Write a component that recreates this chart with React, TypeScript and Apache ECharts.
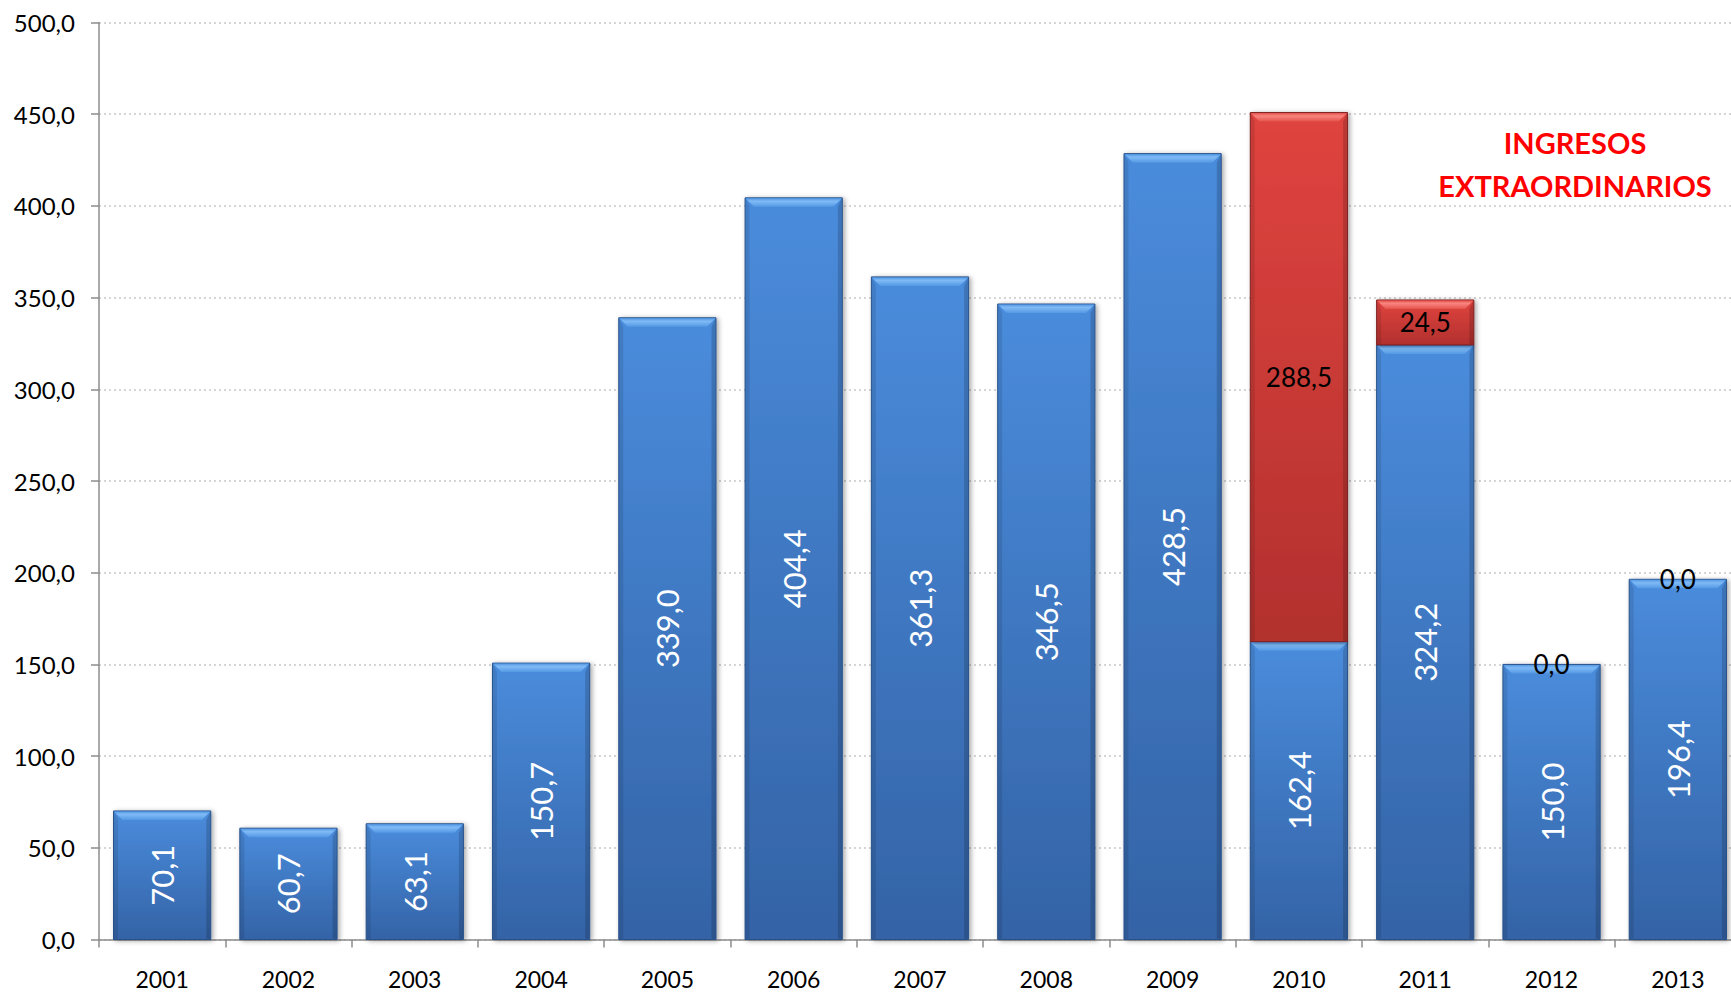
import React, { useEffect, useRef } from "react";
import * as echarts from "echarts";

const categories = ["2001", "2002", "2003", "2004", "2005", "2006", "2007", "2008", "2009", "2010", "2011", "2012", "2013"];
const baseValues = [70.1, 60.7, 63.1, 150.7, 339.0, 404.4, 361.3, 346.5, 428.5, 162.4, 324.2, 150.0, 196.4];
const extraValues: (number | null)[] = [null, null, null, null, null, null, null, null, null, 288.5, 24.5, 0.0, 0.0];
const yMin = 0;
const yMax = 500;
const yInterval = 50;
const noteLines = ["INGRESOS", "EXTRAORDINARIOS"];

const fmt = (v: number) => v.toFixed(1).replace(".", ",");
const FONT = "Lato, 'Open Sans', sans-serif";

export default function App() {
  const ref = useRef<HTMLDivElement>(null);
  useEffect(() => {
    if (!ref.current) return;
    const chart = echarts.init(ref.current, null, { renderer: "svg" });

    const segments: number[][] = [];
    categories.forEach((_, i) => {
      segments.push([i, 0, baseValues[i], 0]);
      const e = extraValues[i];
      if (e !== null && e !== undefined) segments.push([i, baseValues[i], baseValues[i] + e, 1]);
    });

    const palettes = [
      { top: "#4a8cdc", bottom: "#3463a6", bevel1: "#80baf6", bevel2: "#5499e4", edge: "#28518a" },
      { top: "#e0443f", bottom: "#b2302e", bevel1: "#f8857f", bevel2: "#e5524c", edge: "#7e2020" },
    ];

    const renderItem = (params: any, api: any) => {
      const idx = api.value(0);
      const lo = api.value(1);
      const hi = api.value(2);
      const kind = api.value(3);
      const pTop = api.coord([idx, hi]);
      const pBot = api.coord([idx, lo]);
      const band = api.size([1, 0])[0];
      const w = band * 0.77;
      const x0 = pTop[0] - w / 2;
      const x1 = x0 + w;
      const yT = pTop[1];
      const yB = pBot[1];
      const h = yB - yT;
      if (h < 0.5) return { type: "group", children: [] };
      const p = palettes[kind];
      const b = Math.min(9, h / 2);
      return {
        type: "group",
        children: [
          {
            type: "rect",
            shape: { x: x0, y: yT, width: w, height: h },
            style: {
              fill: new echarts.graphic.LinearGradient(0, 0, 0, 1, [
                { offset: 0, color: p.top },
                { offset: 1, color: p.bottom },
              ]),
              stroke: p.edge,
              lineWidth: 1,
              shadowBlur: 5,
              shadowOffsetX: 2,
              shadowOffsetY: 1,
              shadowColor: "rgba(0,0,0,0.35)",
            },
          },
          {
            type: "polygon",
            shape: { points: [[x0 + 0.5, yT + 0.5], [x1 - 0.5, yT + 0.5], [x1 - b, yT + b], [x0 + b, yT + b]] },
            style: {
              fill: new echarts.graphic.LinearGradient(0, 0, 0, 1, [
                { offset: 0, color: p.bevel2 },
                { offset: 0.35, color: p.bevel1 },
                { offset: 1, color: p.bevel2 },
              ]),
            },
          },
          {
            type: "polygon",
            shape: { points: [[x0 + 0.5, yT + 0.5], [x0 + b * 0.5, yT + b], [x0 + b * 0.5, yB - 1], [x0 + 0.5, yB - 0.5]] },
            style: { fill: "rgba(0,0,0,0.10)" },
          },
          {
            type: "polygon",
            shape: { points: [[x1 - 0.5, yT + 0.5], [x1 - b * 0.5, yT + b], [x1 - b * 0.5, yB - 1], [x1 - 0.5, yB - 0.5]] },
            style: { fill: "rgba(0,0,0,0.16)" },
          },
        ],
      };
    };

    chart.setOption({
      animation: false,
      backgroundColor: "#ffffff",
      textStyle: { fontFamily: FONT },
      grid: { left: 99, right: 4, top: 22.5, bottom: 54.5 },
      xAxis: {
        type: "category",
        data: categories,
        boundaryGap: true,
        axisLine: { lineStyle: { color: "#8c8c8c", width: 1.5 } },
        axisTick: { show: true, length: 8, alignWithLabel: false, lineStyle: { color: "#8c8c8c", width: 1.5 } },
        axisLabel: { color: "#000000", fontSize: 23, fontFamily: FONT, margin: 28 },
      },
      yAxis: {
        type: "value",
        min: yMin,
        max: yMax,
        interval: yInterval,
        axisLine: { show: true, lineStyle: { color: "#8c8c8c", width: 1.5 } },
        axisTick: { show: true, length: 8, lineStyle: { color: "#8c8c8c", width: 1.5 } },
        axisLabel: { color: "#000000", fontSize: 24, fontFamily: FONT, margin: 24, formatter: (v: number) => fmt(v) },
        splitLine: { show: true, lineStyle: { color: "#c8c8c8", type: [2, 3], width: 1.5 } },
      },
      graphic: noteLines.map((t, i) => ({
        type: "text",
        x: 1575,
        y: 142 + i * 43,
        style: {
          text: t,
          fill: "#ff0000",
          font: `bold 29px ${FONT}`,
          textAlign: "center",
          textVerticalAlign: "middle",
        },
        z: 10,
      })),
      series: [
        {
          type: "custom",
          renderItem,
          data: segments,
          encode: { x: 0, y: [1, 2] },
          silent: true,
          z: 2,
        },
        {
          name: "base",
          type: "bar",
          stack: "total",
          data: baseValues,
          barCategoryGap: "23%",
          itemStyle: { color: "rgba(0,0,0,0)" },
          label: {
            show: true,
            position: "inside",
            rotate: 90,
            color: "#ffffff",
            fontSize: 31,
            fontFamily: FONT,
            formatter: (p: any) => fmt(p.value),
          },
          z: 5,
        },
        {
          name: "extra",
          type: "bar",
          stack: "total",
          data: extraValues.map((v) => (v === null ? "-" : v)),
          barCategoryGap: "23%",
          itemStyle: { color: "rgba(0,0,0,0)" },
          label: {
            show: true,
            position: "inside",
            color: "#000000",
            fontSize: 26,
            fontFamily: FONT,
            formatter: (p: any) => (typeof p.value === "number" ? fmt(p.value) : ""),
          },
          z: 5,
        },
      ],
    });
    return () => chart.dispose();
  }, []);
  return (
    <div style={{ position: "absolute", left: 0, top: 0, width: 1731, height: 994, overflow: "hidden" }}>
      <div ref={ref} style={{ width: 1745, height: 994 }} />
    </div>
  );
}
